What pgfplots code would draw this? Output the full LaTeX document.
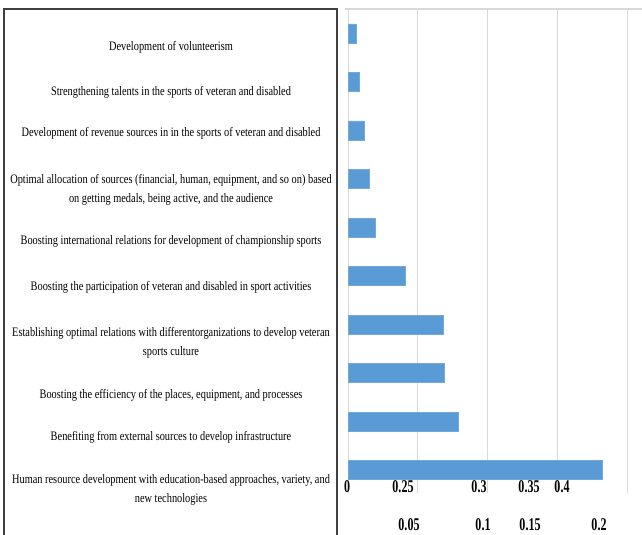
\documentclass[border=0pt]{standalone}
\usepackage{fontspec}
\usepackage{pgfplots}
\pgfplotsset{compat=1.18}
\setmainfont{Liberation Serif}
\newfontfamily\labfont[FakeStretch=0.8]{Liberation Serif}
\newfontfamily\tickfont[FakeStretch=0.67]{Liberation Serif}
\definecolor{barblue}{HTML}{5B9BD5}
\definecolor{gridgray}{HTML}{D9D9D9}
\definecolor{boxgray}{HTML}{404040}
\begin{document}
\begin{tikzpicture}
\path[use as bounding box] (0,0) rectangle (642bp,535bp);
\begin{axis}[
  at={(348bp,42bp)}, anchor=south west,
  scale only axis, width=279bp, height=484bp,
  xmin=0, xmax=0.2, ymin=-0.474, ymax=9.505,
  xtick={0,0.05,0.1,0.15,0.2}, xticklabels={},
  ytick=\empty,
  xmajorgrids, major grid style={gridgray, line width=0.8bp},
  axis line style={draw=none},
  major tick length=0pt,
  xbar, bar width=19bp,
]
\addplot[fill=barblue, draw=barblue!85!white] coordinates {
  (0.1821,0) (0.0789,1) (0.0688,2) (0.0681,3) (0.0409,4)
  (0.0194,5) (0.0151,6) (0.0115,7) (0.0079,8) (0.0057,9)
};
\end{axis}
% top frame line of plot area
\draw[gridgray, line width=1.8bp] (345bp,526bp) -- (642bp,526bp);
% left table box
\draw[boxgray, line width=1.2bp] (4bp,0bp) -- (4bp,526bp) -- (337bp,526bp) -- (337bp,0bp);
% category labels
\begin{scope}[every node/.style={font=\labfont\fontsize{13}{19}\selectfont, align=center, inner sep=0pt}]
\node at (171bp,488bp) {Development of volunteerism};
\node at (171bp,443bp) {Strengthening talents in the sports of veteran and disabled};
\node at (171bp,402bp) {Development of revenue sources in in the sports of veteran and disabled};
\node at (171bp,345bp) {Optimal allocation of sources (financial, human, equipment, and so on) based\\ on getting medals, being active, and the audience};
\node at (171bp,294bp) {Boosting international relations for development of championship sports};
\node at (171bp,248bp) {Boosting the participation of veteran and disabled in sport activities};
\node at (171bp,192bp) {Establishing optimal relations with differentorganizations to develop veteran\\ sports culture};
\node at (171bp,140bp) {Boosting the efficiency of the places, equipment, and processes};
\node at (171bp,98bp) {Benefiting from external sources to develop infrastructure};
\node at (171bp,45bp) {Human resource development with education-based approaches, variety, and\\ new technologies};
\end{scope}
% tick labels as they appear in the reference (two staggered rows)
\begin{scope}[every node/.style={font=\tickfont\bfseries\fontsize{18}{20}\selectfont, inner sep=0pt}]
\node at (347bp,48bp) {0};
\node at (403bp,48bp) {0.25};
\node at (479bp,48bp) {0.3};
\node at (529bp,48bp) {0.35};
\node at (562bp,48bp) {0.4};
\node at (409bp,10bp) {0.05};
\node at (483bp,10bp) {0.1};
\node at (530bp,10bp) {0.15};
\node at (599bp,10bp) {0.2};
\end{scope}
\end{tikzpicture}
\end{document}
